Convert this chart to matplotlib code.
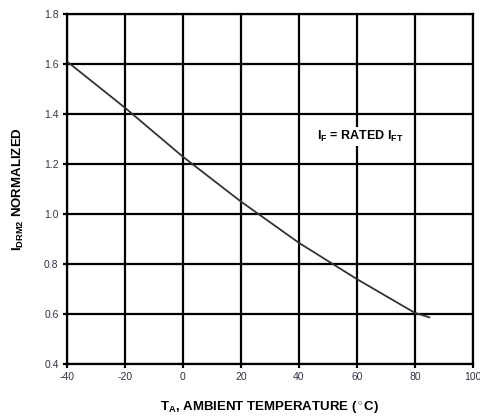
import matplotlib.pyplot as plt
import numpy as np

plt.rcParams['font.family'] = ['Liberation Sans Narrow', 'Liberation Sans', 'DejaVu Sans']
plt.rcParams['mathtext.fontset'] = 'custom'
plt.rcParams['mathtext.rm'] = 'Liberation Sans:bold'
plt.rcParams['mathtext.it'] = 'Liberation Sans:bold'
plt.rcParams['mathtext.bf'] = 'Liberation Sans:bold'

# curve
temp = [-40, -20, 0, 20, 40, 60, 80, 85]
idrm2 = [1.61, 1.425, 1.229, 1.05, 0.885, 0.74, 0.605, 0.587]

xticks = [-40, -20, 0, 20, 40, 60, 80, 100]
yticks = [0.4, 0.6, 0.8, 1.0, 1.2, 1.4, 1.6, 1.8]

fig = plt.figure(figsize=(4.81, 4.19), dpi=100)
ax = fig.add_axes([0.139, 0.131, 0.844, 0.836])

ax.plot(temp, idrm2, color='#333333', lw=1.3, zorder=3)

ax.set_xlim(-40, 100)
ax.set_ylim(0.4, 1.8)
ax.set_xticks(xticks)
ax.set_yticks(yticks)
ax.set_yticklabels(['%.1f' % v for v in yticks])
ax.set_xticklabels([str(v) for v in xticks])
ax.grid(True, color='black', lw=1.6)
ax.set_axisbelow(True)
for s in ax.spines.values():
    s.set_linewidth(1.6)
ax.tick_params(length=3, width=1.6, labelsize=7.5, pad=3, labelcolor='#333344')

ax.text(0.722, 0.649, r'$\mathrm{I_F}$ = RATED $\mathrm{I_{FT}}$', transform=ax.transAxes,
        fontsize=9, fontweight='bold', ha='center', va='center',
        bbox=dict(facecolor='white', edgecolor='none', pad=1.5), zorder=4)

ax.set_xlabel(r'$\mathrm{T_A}$, AMBIENT TEMPERATURE ($^\circ$C)', fontsize=9.5,
              fontweight='bold', labelpad=12)
ax.set_ylabel(r'$\mathrm{I_{DRM2}}$ NORMALIZED', fontsize=9.5, fontweight='bold', labelpad=13)

fig.savefig('out.png', dpi=100)
